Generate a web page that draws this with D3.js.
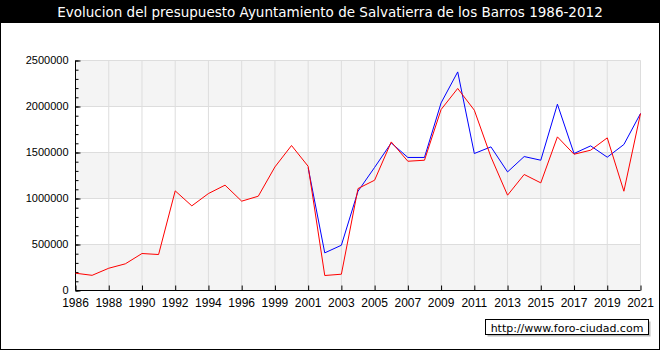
<!DOCTYPE html>
<html>
<head>
<meta charset="utf-8">
<script src="https://cdn.jsdelivr.net/npm/d3@7"></script>
<style>
body { margin: 0; background: white; }
</style>
</head>
<body>
<div id="chart"></div>
<script>
let years = ["1986","1987","1988","1989","1990","1991","1992","1993","1994","1995","1996","1997",
    "1999","2000","2001","2002","2003","2004","2005","2006","2007","2008","2009","2010",
    "2011","2012","2013","2014","2015","2016","2017","2018","2019","2020","2021"];
let redValues = [188000,165000,242000,290000,402000,391000,1083000,920000,1054000,1145000,971000,1025000,
    1343000,1576000,1350000,163000,177000,1108000,1199000,1615000,1405000,1416000,1967000,2196000,
    1960000,1452000,1036000,1261000,1170000,1670000,1481000,1525000,1659000,1079000,1924000];
let blueValues = [null,null,null,null,null,null,null,null,null,null,null,null,
    null,null,1335000,409000,492000,1079000,1338000,1604000,1446000,1446000,2039000,2376000,
    1489000,1561000,1289000,1456000,1416000,2025000,1489000,1572000,1449000,1587000,1924000];
let yTicks = [0,500000,1000000,1500000,2000000,2500000];
let title = "Evolucion del presupuesto Ayuntamiento de Salvatierra de los Barros 1986-2012";
let credit = "http://www.foro-ciudad.com";

let W = 660, H = 350;
let pLeft = 75.5, pRight = 640.5, pTop = 60.5, pBottom = 290.5;

var svg = d3.select("#chart")
    .append("svg")
        .attr("width", W)
        .attr("height", H)
        .style("display", "block");

// title bar
svg.append("rect").attr("x", 0).attr("y", 0).attr("width", W).attr("height", 23).attr("fill", "black");
svg.append("text")
    .attr("x", 330).attr("y", 16.5)
    .attr("text-anchor", "middle")
    .attr("fill", "white")
    .style("font-family", "DejaVu Sans")
    .style("font-size", "13.5px")
    .text(title);

var x = d3.scalePoint().domain(years).range([pLeft, pRight]);
var y = d3.scaleLinear().domain([0, 2500000]).range([pBottom, pTop]);

// alternating bands
for (var i = 0; i < yTicks.length - 1; i++) {
    svg.append("rect")
        .attr("x", pLeft).attr("y", y(yTicks[i + 1]))
        .attr("width", pRight - pLeft).attr("height", y(yTicks[i]) - y(yTicks[i + 1]))
        .attr("fill", i % 2 == 0 ? "#f4f4f4" : "white");
}

var labelled = years.filter(function(d, i) { return i % 2 == 0; });

// grid
svg.append("g").selectAll("line").data(labelled).enter().append("line")
    .attr("x1", function(d) { return x(d); }).attr("x2", function(d) { return x(d); })
    .attr("y1", pTop).attr("y2", pBottom)
    .attr("stroke", "#dddddd");
svg.append("g").selectAll("line").data(yTicks).enter().append("line")
    .attr("x1", pLeft).attr("x2", pRight)
    .attr("y1", function(d) { return y(d); }).attr("y2", function(d) { return y(d); })
    .attr("stroke", "#dddddd");

// y axis, ticks pointing inside
svg.append("g")
    .attr("transform", "translate(" + pLeft + ",0)")
    .call(d3.axisRight(y).tickValues(d3.range(0, 2500001, 100000)).tickSize(3).tickFormat(""))
    .select(".domain").remove();
svg.append("g")
    .attr("transform", "translate(" + pLeft + ",0)")
    .call(d3.axisRight(y).tickValues(yTicks).tickSize(5).tickFormat(""))
    .select(".domain").remove();
svg.append("g").selectAll("text").data(yTicks).enter().append("text")
    .attr("x", pLeft - 7).attr("y", function(d) { return y(d) + 3; })
    .attr("text-anchor", "end")
    .style("font-family", "Liberation Sans")
    .style("font-size", "11px")
    .text(function(d) { return d; });

// x axis
svg.append("g")
    .attr("transform", "translate(0," + pBottom + ")")
    .call(d3.axisTop(x).tickValues(labelled).tickSize(5).tickFormat(""))
    .select(".domain").remove();
svg.append("g").selectAll("text").data(labelled).enter().append("text")
    .attr("x", function(d) { return x(d); }).attr("y", pBottom + 16)
    .attr("text-anchor", "middle")
    .style("font-family", "Liberation Sans")
    .style("font-size", "12px")
    .text(function(d) { return d; });

svg.append("line").attr("x1", pLeft).attr("x2", pLeft).attr("y1", pTop).attr("y2", pBottom).attr("stroke", "black");
svg.append("line").attr("x1", pLeft).attr("x2", pRight).attr("y1", pBottom).attr("y2", pBottom).attr("stroke", "black");

// lines
var line = d3.line()
    .defined(function(d) { return d != null; })
    .x(function(d, i) { return x(years[i]); })
    .y(function(d) { return y(d); });
svg.append("path").datum(blueValues).attr("d", line).attr("fill", "none").attr("stroke", "#0000ff");
svg.append("path").datum(redValues).attr("d", line).attr("fill", "none").attr("stroke", "#ff0000");

// credit box
svg.append("rect").attr("x", 487.5).attr("y", 321.5).attr("width", 163).attr("height", 15).attr("fill", "#bbbbbb");
svg.append("rect").attr("x", 485.5).attr("y", 319.5).attr("width", 163).attr("height", 15)
    .attr("fill", "white").attr("stroke", "black");
svg.append("text")
    .attr("x", 567).attr("y", 331.5)
    .attr("text-anchor", "middle")
    .style("font-family", "DejaVu Sans")
    .style("font-size", "11px")
    .text(credit);

// outer border
svg.append("rect").attr("x", 0.5).attr("y", 0.5).attr("width", W - 1).attr("height", H - 1)
    .attr("fill", "none").attr("stroke", "black");
</script>
</body>
</html>
